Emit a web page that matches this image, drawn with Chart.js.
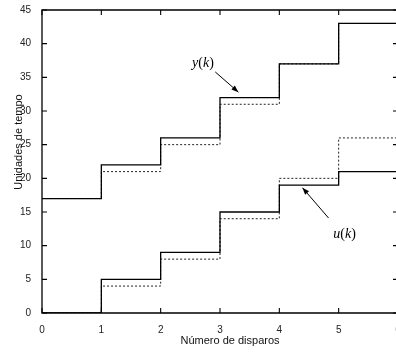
<!DOCTYPE html>
<html>
<head>
<meta charset="utf-8">
<script src="https://cdn.jsdelivr.net/npm/chart.js@4.4.1/dist/chart.umd.min.js"></script>
<style>
  html, body { margin: 0; padding: 0; background: #fff; overflow: hidden; }
  #wrap { width: 440px; height: 352px; }
</style>
</head>
<body>
<div id="wrap"><canvas id="chart"></canvas></div>
<script>
// number of shots (x) and the four step series
const shots = [0, 1, 2, 3, 4, 5, 6];
const ySolid = [17, 22, 26, 32, 37, 43, 43];
const yDotted = [17, 21, 25, 31, 37, 43, 43];
const uSolid = [0, 5, 9, 15, 19, 21, 21];
const uDotted = [0, 4, 8, 14, 20, 26, 26];

const xTicks = [0, 1, 2, 3, 4, 5, 6];
const yTicks = [0, 5, 10, 15, 20, 25, 30, 35, 40, 45];

const xTitle = "Número de disparos";
const yTitle = "Unidades de tempo";

function points(vals) {
  return shots.map((x, i) => ({ x: x, y: vals[i] }));
}

function stepSet(vals, dotted) {
  return {
    data: points(vals),
    stepped: "before",
    borderColor: dotted ? "#222" : "#000",
    borderWidth: dotted ? 1 : 1.3,
    borderDash: dotted ? [2, 2] : [],
    pointRadius: 0,
    fill: false
  };
}

function drawArrow(ctx, x1, y1, x2, y2) {
  ctx.beginPath();
  ctx.moveTo(x1, y1);
  ctx.lineTo(x2, y2);
  ctx.stroke();
  const a = Math.atan2(y2 - y1, x2 - x1);
  const len = 7, w = 2.6;
  ctx.beginPath();
  ctx.moveTo(x2, y2);
  ctx.lineTo(x2 - len * Math.cos(a) + w * Math.sin(a), y2 - len * Math.sin(a) - w * Math.cos(a));
  ctx.lineTo(x2 - len * Math.cos(a) - w * Math.sin(a), y2 - len * Math.sin(a) + w * Math.cos(a));
  ctx.closePath();
  ctx.fill();
}

function drawLabel(ctx, x, y, name) {
  // name(k), with the letters italic and the brackets upright
  const parts = [[name, true], ["(", false], ["k", true], [")", false]];
  ctx.textBaseline = "alphabetic";
  ctx.textAlign = "left";
  parts.forEach(p => {
    ctx.font = (p[1] ? "italic " : "") + "14px 'Liberation Serif', 'Times New Roman', serif";
    ctx.fillText(p[0], x, y);
    x += ctx.measureText(p[0]).width;
  });
}

const frame = {
  id: "frame",
  afterDraw(chart) {
    const ctx = chart.ctx;
    const xs = chart.scales.x, ys = chart.scales.y;
    const x0 = xs.getPixelForValue(0);
    const x1 = xs.getPixelForValue(6);
    const y0 = ys.getPixelForValue(45);
    const y1 = ys.getPixelForValue(0);
    ctx.save();
    ctx.setLineDash([]);
    ctx.strokeStyle = "#000";
    ctx.fillStyle = "#000";
    ctx.lineWidth = 1.3;
    // box
    ctx.beginPath();
    ctx.moveTo(x0, y0);
    ctx.lineTo(x1, y0);
    ctx.lineTo(x1, y1);
    ctx.lineTo(x0, y1);
    ctx.closePath();
    ctx.stroke();
    // inward ticks on all four sides
    ctx.lineWidth = 1.1;
    ctx.beginPath();
    xTicks.forEach(v => {
      const px = xs.getPixelForValue(v);
      ctx.moveTo(px, y1); ctx.lineTo(px, y1 - 5);
      ctx.moveTo(px, y0); ctx.lineTo(px, y0 + 5);
    });
    yTicks.forEach(v => {
      const py = ys.getPixelForValue(v);
      ctx.moveTo(x0, py); ctx.lineTo(x0 + 5, py);
      ctx.moveTo(x1, py); ctx.lineTo(x1 - 5, py);
    });
    ctx.stroke();

    // annotations
    ctx.lineWidth = 1;
    drawLabel(ctx, xs.getPixelForValue(2.53), ys.getPixelForValue(36.5), "y");
    drawArrow(ctx, xs.getPixelForValue(2.92), ys.getPixelForValue(35.8),
      xs.getPixelForValue(3.31), ys.getPixelForValue(32.8));
    drawLabel(ctx, xs.getPixelForValue(4.91), ys.getPixelForValue(11.1), "u");
    drawArrow(ctx, xs.getPixelForValue(4.83), ys.getPixelForValue(14.1),
      xs.getPixelForValue(4.39), ys.getPixelForValue(18.6));

    // axis titles
    ctx.fillStyle = "#111";
    ctx.font = "11px 'Liberation Sans', Arial, sans-serif";
    ctx.textAlign = "center";
    ctx.textBaseline = "middle";
    ctx.fillText(xTitle, 230, 341);
    ctx.translate(19, 142);
    ctx.rotate(-Math.PI / 2);
    ctx.fillText(yTitle, 0, 0);
    ctx.restore();
  }
};

new Chart(document.getElementById("chart"), {
  type: "line",
  data: {
    datasets: [
      stepSet(ySolid, false),
      stepSet(yDotted, true),
      stepSet(uSolid, false),
      stepSet(uDotted, true)
    ]
  },
  options: {
    responsive: true,
    maintainAspectRatio: false,
    animation: false,
    events: [],
    layout: { padding: { top: 10, right: 42, left: 0, bottom: 0 } },
    plugins: { legend: { display: false }, tooltip: { enabled: false } },
    scales: {
      x: {
        type: "linear",
        min: 0,
        max: 6,
        afterFit(s) { s.height = 39; },
        afterBuildTicks(s) { s.ticks = xTicks.map(v => ({ value: v })); },
        grid: { display: false },
        border: { display: false },
        ticks: {
          padding: 3,
          color: "#222",
          font: { family: "'Liberation Sans', Arial, sans-serif", size: 10 },
          maxRotation: 0
        }
      },
      y: {
        type: "linear",
        min: 0,
        max: 45,
        afterFit(s) { s.width = 42; },
        afterBuildTicks(s) { s.ticks = yTicks.map(v => ({ value: v })); },
        grid: { display: false },
        border: { display: false },
        ticks: {
          padding: 3,
          color: "#222",
          font: { family: "'Liberation Sans', Arial, sans-serif", size: 10 }
        }
      }
    }
  },
  plugins: [frame]
});
</script>
</body>
</html>
